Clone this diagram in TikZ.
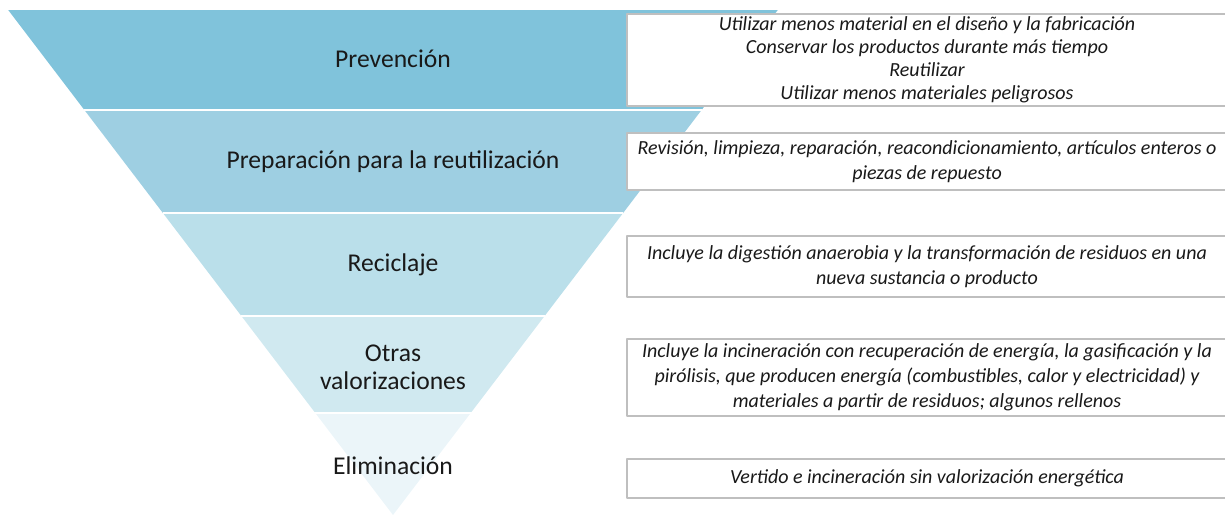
\documentclass[tikz,border=0pt]{standalone}
\usepackage{fontspec}
\setmainfont{Carlito}
\definecolor{nivelA}{HTML}{80C3DB}
\definecolor{nivelB}{HTML}{9ECFE2}
\definecolor{nivelC}{HTML}{BADFEA}
\definecolor{nivelD}{HTML}{D0E9F0}
\definecolor{nivelE}{HTML}{EBF5F9}
\definecolor{borde}{HTML}{BFBFBF}
\begin{document}
\begin{tikzpicture}[x=0.5pt,y=-0.5pt, line join=round,
    nivel/.style={font=\fontsize{12.8}{14}\selectfont, align=center, text=black!90},
    caja/.style={draw=borde, line width=1pt, fill=white, minimum width=300pt, inner sep=0pt,
      align=center, font=\fontsize{10}{12.5}\selectfont\itshape, text=black!90}]
	\useasboundingbox (0,0) rectangle (1225,514);
	% bands of the pyramid
	\fill[nivelA] (8.2,10)--(777.8,10)--(701.6,110)--(84.4,110)--cycle;
	\fill[nivelB] (84.4,110)--(701.6,110)--(623.1,213)--(162.9,213)--cycle;
	\fill[nivelC] (162.9,213)--(623.1,213)--(544.6,316)--(241.4,316)--cycle;
	\fill[nivelD] (241.4,316)--(544.6,316)--(470.7,413)--(315.3,413)--cycle;
	\fill[nivelE] (315.3,413)--(470.7,413)--(393,515)--cycle;
	\draw[white,line width=1pt] (84.4,110)--(701.6,110) (162.9,213)--(623.1,213)
		(241.4,316)--(544.6,316) (313,413)--(473,413);
	\node[nivel] (prev) at (393,59) {Prevención};
	\node[nivel] (prep) at (393,162) {Preparación para la reutilización};
	\node[nivel] (recic) at (393,265) {Reciclaje};
	\node[nivel] (otras) at (393,367) {Otras\\valorizaciones};
	\node[nivel] (elim) at (393,466) {Eliminación};
	% description boxes
	\node[caja, minimum height=46pt, font=\fontsize{10}{11.5}\selectfont\itshape] (dprev) at (927,60)
		{Utilizar menos material en el diseño y la fabricación\\Conservar los productos durante más tiempo\\Reutilizar\\Utilizar menos materiales peligrosos};
	\node[caja, minimum height=28.5pt] (dprep) at (927,161.5)
		{Revisión, limpieza, reparación, reacondicionamiento, artículos enteros o\\piezas de repuesto};
	\node[caja, minimum height=30.5pt] (drecic) at (927,266.5)
		{Incluye la digestión anaerobia y la transformación de residuos en una\\nueva sustancia o producto};
	\node[caja, minimum height=38.5pt] (dotras) at (927,377.5)
		{Incluye la incineración con recuperación de energía, la gasificación y la\\pirólisis, que producen energía (combustibles, calor y electricidad) y\\materiales a partir de residuos; algunos rellenos};
	\node[caja, minimum height=19.5pt] (delim) at (927,478.5)
		{Vertido e incineración sin valorización energética};
\end{tikzpicture}
\end{document}
